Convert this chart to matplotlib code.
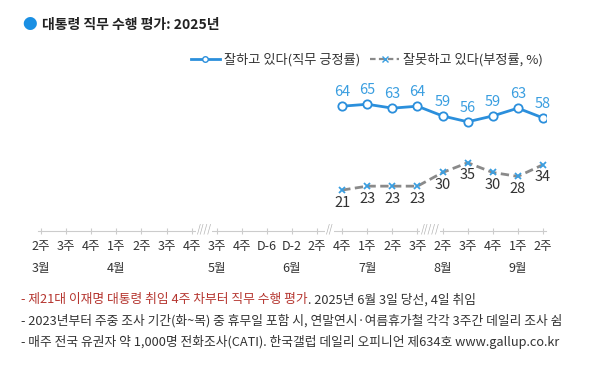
import matplotlib
matplotlib.use("Agg")
from matplotlib import pyplot as plt
from matplotlib.lines import Line2D
import matplotlib.transforms as mtransforms

plt.rcParams['font.family'] = ['Noto Sans CJK KR', 'DejaVu Sans']

# data
week_labels = ["2주", "3주", "4주", "1주", "2주", "3주", "4주", "3주", "4주", "D-6", "D-2",
               "2주", "4주", "1주", "2주", "3주", "2주", "3주", "4주", "1주", "2주"]
month_labels = ["3월", "4월", "5월", "6월", "7월", "8월", "9월"]
month_pos = [0, 3, 7, 10, 13, 16, 19]
breaks = [(6.5, "////"), (11.5, "//"), (15.5, "/////")]

data_pos = [12, 13, 14, 15, 16, 17, 18, 19, 20]
approve = [64, 65, 63, 64, 59, 56, 59, 63, 58]
disapprove = [21, 23, 23, 23, 30, 35, 30, 28, 34]

blue = "#2b8fdc"
label_blue = "#3a9ee0"
grey = "#8a8a8a"
text_c = "#333333"

W, H = 601, 370
fig = plt.figure(figsize=(W / 100, H / 100), dpi=100)
ax = fig.add_axes([38 / W, 1 - 231 / H, 508 / W, 195 / H])

ax.plot(data_pos, approve, color=blue, lw=2, marker="o", ms=6, mfc="white",
        mec=blue, mew=1.3, label="잘하고 있다(직무 긍정률)", zorder=3)
ax.plot(data_pos, disapprove, color=grey, lw=2, ls=(0, (3, 1.6)), marker="x", ms=5,
        mec=label_blue, mew=1.3, label="잘못하고 있다(부정률, %)", zorder=3)

for x, v in zip(data_pos, approve):
    ax.annotate(str(v), (x, v), xytext=(0, 5), textcoords="offset points",
                ha="center", va="bottom", fontsize=10.5, color=label_blue)
for x, v in zip(data_pos, disapprove):
    ax.annotate(str(v), (x, v), xytext=(0, -4), textcoords="offset points",
                ha="center", va="top", fontsize=10.5, color=text_c)

ax.set_xlim(-0.12, 20.12)
ax.set_ylim(0, 100)
for s in ["top", "right", "left"]:
    ax.spines[s].set_visible(False)
ax.spines["bottom"].set_color("#cccccc")
ax.set_yticks([])
ax.set_xticks(range(len(week_labels)))
ax.set_xticklabels(week_labels, fontsize=9, color=text_c)
ax.tick_params(axis="x", direction="inout", length=5, color="#cccccc", pad=4)

trans = mtransforms.blended_transform_factory(ax.transData, ax.transAxes)
for x, s in breaks:
    ax.text(x, 0.01, s, transform=trans, ha="center", va="center", fontsize=7,
            color="#b0b0b0", style="italic",
            bbox=dict(fc="white", ec="none", pad=0.5))
for x, s in zip(month_pos, month_labels):
    ax.text(x, -0.19, s, transform=trans, ha="center", va="center", fontsize=9, color=text_c)

# title
fig.text(30 / W, 1 - 25 / H, "●", color="#1a8fe3", fontsize=10.5, ha="center", va="center")
fig.text(42 / W, 1 - 25 / H, "대통령 직무 수행 평가: 2025년", fontsize=10, fontweight="bold",
         color="#222222", ha="left", va="center")

# legend
h1 = Line2D([], [], color=blue, lw=2, marker="o", ms=4, mfc="white", mec=blue)
h2 = Line2D([], [], color=grey, lw=1.6, ls=(0, (2.5, 1.5)), marker="x", ms=4, mec=label_blue)
fig.legend([h1, h2], ["잘하고 있다(직무 긍정률)", "잘못하고 있다(부정률, %)"], ncol=2,
           loc="center", bbox_to_anchor=(367 / W, 1 - 60 / H), frameon=False, fontsize=9.5,
           handlelength=2.2, handletextpad=0.3, columnspacing=0.8, labelcolor=text_c)

# footnotes
fs = 9.2
red = "#b5352f"
note1 = "- 제21대 이재명 대통령 취임 4주 차부터 직무 수행 평가"
t = fig.text(21 / W, 1 - 300 / H, note1, color=red, fontsize=fs, ha="left", va="center")
fig.canvas.draw()
bb = t.get_window_extent()
fig.text(bb.x1 / W, 1 - 300 / H, ". 2025년 6월 3일 당선, 4일 취임", color=text_c,
         fontsize=fs, ha="left", va="center")
fig.text(21 / W, 1 - 321 / H,
         "- 2023년부터 주중 조사 기간(화~목) 중 휴무일 포함 시, 연말연시·여름휴가철 각각 3주간 데일리 조사 쉼",
         color=text_c, fontsize=fs, ha="left", va="center")
fig.text(21 / W, 1 - 342 / H,
         "- 매주 전국 유권자 약 1,000명 전화조사(CATI). 한국갤럽 데일리 오피니언 제634호 www.gallup.co.kr",
         color=text_c, fontsize=fs, ha="left", va="center")

fig.savefig("out.png", dpi=100)
